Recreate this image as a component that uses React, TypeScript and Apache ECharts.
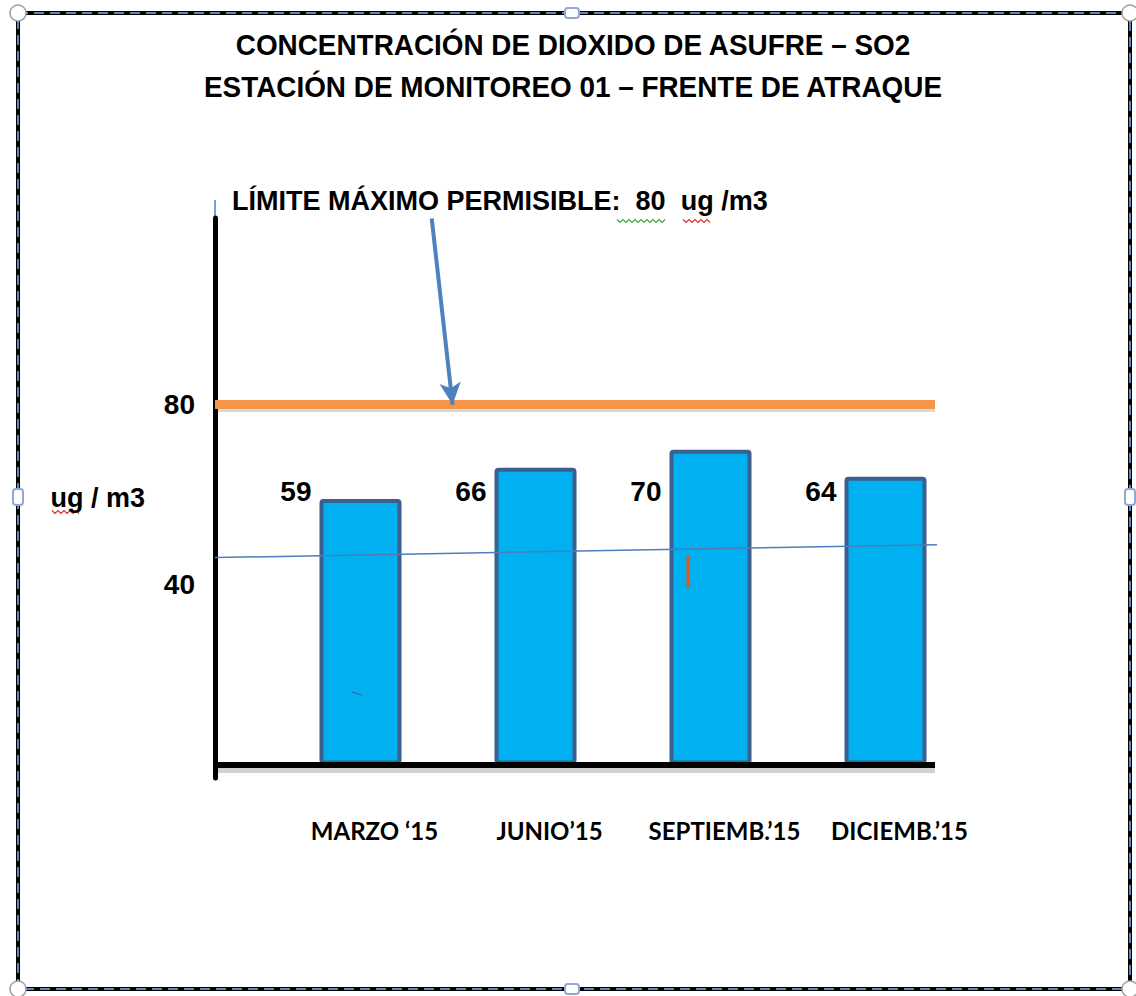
import React, { useEffect, useRef } from "react";
import * as echarts from "echarts";

// Monitoring data: SO2 concentration per quarter (ug/m3)
const CATEGORIES = ["MARZO ‘15", "JUNIO’15", "SEPTIEMB.’15", "DICIEMB.’15"];
const SO2_VALUES = [59, 66, 70, 64];
const LIMIT = 80;
const Y_TICKS = [40, 80];
// Thin reference line across the plot, as [x fraction, ug/m3]
const REF_LINE: [number, number][] = [
  [0, 46],
  [1.015, 48.9],
];
// Pointer from the annotation down to the limit line
const ARROW_FROM: [number, number] = [0.301, 121.4];
const ARROW_TO_X = 0.33;
// Level at which the value labels sit
const LABEL_LEVEL = 60.6;

const TITLE_LINES = [
  "CONCENTRACIÓN DE DIOXIDO DE ASUFRE – SO2",
  "ESTACIÓN DE MONITOREO 01 – FRENTE DE ATRAQUE",
];

const ARIAL = '"Liberation Sans", Arial, sans-serif';
const CALIBRI = 'Lato, "Open Sans", sans-serif';

const Y_MIN = -3;
const Y_MAX = 121.5;
const GRID_TOP = 218;
const GRID_H = 560;
const PX = GRID_H / (Y_MAX - Y_MIN);
const yPix = (v: number) => GRID_TOP + (Y_MAX - v) * PX;

function squiggle(x0: number, x1: number, y: number): number[][] {
  const pts: number[][] = [];
  let up = true;
  for (let x = x0; x <= x1; x += 3) {
    pts.push([x, up ? y - 1.5 : y + 1.5]);
    up = !up;
  }
  return pts;
}

export default function App() {
  const ref = useRef<HTMLDivElement>(null);

  useEffect(() => {
    if (!ref.current) return;
    const chart = echarts.init(ref.current, null, { renderer: "svg" });

    const labelY = yPix(LABEL_LEVEL);

    const option: any = {
      animation: false,
      backgroundColor: "#ffffff",
      grid: [
        { left: 273, width: 700, top: GRID_TOP, height: GRID_H },
        { left: 215, width: 720, top: GRID_TOP, height: GRID_H },
      ],
      xAxis: [
        {
          type: "category",
          gridIndex: 0,
          data: CATEGORIES,
          axisLine: { show: false, onZero: false },
          axisTick: { show: false },
          axisLabel: {
            interval: 0,
            margin: 40,
            padding: [0, 0, 0, 28],
            color: "#000",
            fontFamily: CALIBRI,
            fontWeight: "bold",
            fontSize: 24,
          },
          splitLine: { show: false },
        },
        {
          type: "value",
          gridIndex: 1,
          min: 0,
          max: 1,
          axisLine: { show: false },
          axisTick: { show: false },
          axisLabel: { show: false },
          splitLine: { show: false },
        },
      ],
      yAxis: [
        {
          type: "value",
          gridIndex: 0,
          min: Y_MIN,
          max: Y_MAX,
          show: false,
          splitLine: { show: false },
        },
        {
          type: "value",
          gridIndex: 1,
          min: Y_MIN,
          max: Y_MAX,
          name: "ug / m3",
          nameLocation: "middle",
          nameRotate: 0,
          nameGap: 70,
          nameTextStyle: {
            color: "#000",
            fontFamily: ARIAL,
            fontWeight: "bold",
            fontSize: 27,
            align: "right",
            padding: [0, 0, 10, 0],
          },
          axisLine: {
            show: true,
            onZero: false,
            lineStyle: { color: "#000", width: 5 },
          },
          axisTick: { show: false },
          axisLabel: {
            customValues: Y_TICKS,
            margin: 20,
            color: "#000",
            fontFamily: ARIAL,
            fontWeight: "bold",
            fontSize: 28,
          },
          splitLine: { show: false },
        },
      ],
      series: [
        {
          type: "bar",
          xAxisIndex: 0,
          yAxisIndex: 0,
          data: SO2_VALUES,
          barWidth: 82,
          itemStyle: {
            color: "#00B0F0",
            borderColor: "#3B5F8F",
            borderWidth: 4,
            borderRadius: 2,
          },
          label: {
            show: true,
            color: "#000",
            fontFamily: ARIAL,
            fontWeight: "bold",
            fontSize: 28,
          },
          labelLayout: (p: any) => ({
            x: p.rect.x - 8,
            y: labelY,
            align: "right",
            verticalAlign: "middle",
          }),
          z: 2,
        },
        {
          type: "line",
          xAxisIndex: 1,
          yAxisIndex: 1,
          data: REF_LINE,
          symbol: "none",
          clip: false,
          lineStyle: { color: "#4A7EBB", width: 1.5 },
          z: 4,
          markLine: {
            silent: true,
            symbol: ["none", "none"],
            label: { show: false },
            data: [
              // horizontal axis line at zero, with a soft shadow below it
              {
                yAxis: -1.2,
                lineStyle: { color: "rgba(0,0,0,0.18)", width: 5, type: "solid" },
              },
              {
                yAxis: 0,
                lineStyle: { color: "#000", width: 6, type: "solid" },
              },
              // permissible limit
              {
                yAxis: LIMIT - 0.9,
                lineStyle: { color: "rgba(0,0,0,0.15)", width: 6, type: "solid" },
              },
              {
                yAxis: LIMIT,
                lineStyle: { color: "#F79646", width: 9, type: "solid" },
              },
              // pointer to the limit
              [
                { coord: ARROW_FROM, symbol: "none" },
                {
                  coord: [ARROW_TO_X, LIMIT],
                  symbol: "arrow",
                  symbolSize: [16, 22],
                  lineStyle: { color: "#4F81BD", width: 4, type: "solid" },
                },
              ],
            ],
          },
        },
      ],
      graphic: [
        // frame
        {
          type: "rect",
          shape: { x: 18, y: 13, width: 1112, height: 976 },
          style: { fill: "none", stroke: "#000", lineWidth: 4 },
          silent: true,
        },
        {
          type: "rect",
          shape: { x: 18, y: 13, width: 1112, height: 976 },
          style: { fill: "none", stroke: "#5B86BE", lineWidth: 2, lineDash: [10, 6] },
          silent: true,
        },
        ...[
          [18, 13],
          [1130, 13],
          [18, 989],
          [1130, 989],
        ].map(([cx, cy]) => ({
          type: "circle",
          shape: { cx, cy, r: 8 },
          style: { fill: "#fff", stroke: "#A0A0A0", lineWidth: 1.5 },
          silent: true,
        })),
        ...[
          [572, 13, 14, 10],
          [572, 989, 14, 10],
          [18, 497, 10, 16],
          [1130, 497, 10, 16],
        ].map(([cx, cy, w, h]) => ({
          type: "rect",
          shape: { x: cx - w / 2, y: cy - h / 2, width: w, height: h, r: 3 },
          style: { fill: "#fff", stroke: "#8FA9D3", lineWidth: 2 },
          silent: true,
        })),
        // titles
        ...TITLE_LINES.map((t, i) => ({
          type: "text",
          x: 573,
          y: 45 + i * 42,
          scaleX: 0.93,
          style: {
            text: t,
            fill: "#000",
            font: `bold 30px ${ARIAL}`,
            textAlign: "center",
            textVerticalAlign: "middle",
          },
          silent: true,
        })),
        // annotation for the limit
        {
          type: "text",
          x: 232,
          y: 200,
          scaleX: 0.965,
          style: {
            text: `LÍMITE MÁXIMO PERMISIBLE:  ${LIMIT}  ug /m3`,
            fill: "#000",
            font: `bold 28px ${ARIAL}`,
            textAlign: "left",
            textVerticalAlign: "middle",
          },
          silent: true,
        },
        // thin top extension of the y axis
        {
          type: "line",
          shape: { x1: 215, y1: 200, x2: 215, y2: GRID_TOP },
          style: { stroke: "#4F81BD", lineWidth: 1.5 },
          silent: true,
        },
        // small stray marks
        {
          type: "line",
          shape: { x1: 688, y1: 556, x2: 688, y2: 588 },
          style: { stroke: "#E8541E", lineWidth: 3 },
          silent: true,
          z: 10,
        },
        {
          type: "line",
          shape: { x1: 352, y1: 692, x2: 362, y2: 695 },
          style: { stroke: "#3B5F8F", lineWidth: 1 },
          silent: true,
          z: 10,
        },
        // spell-check squiggles
        {
          type: "polyline",
          shape: { points: squiggle(617, 667, 221) },
          style: { stroke: "#3FA63F", lineWidth: 1.2, fill: "none" },
          silent: true,
        },
        {
          type: "polyline",
          shape: { points: squiggle(683, 712, 221) },
          style: { stroke: "#E03030", lineWidth: 1.2, fill: "none" },
          silent: true,
        },
        {
          type: "polyline",
          shape: { points: squiggle(52, 80, 512) },
          style: { stroke: "#E03030", lineWidth: 1.2, fill: "none" },
          silent: true,
        },
      ],
    };

    chart.setOption(option);
    return () => chart.dispose();
  }, []);

  return (
    <div
      ref={ref}
      style={{ position: "fixed", left: 0, top: 0, width: 1136, height: 996, background: "#fff" }}
    />
  );
}
